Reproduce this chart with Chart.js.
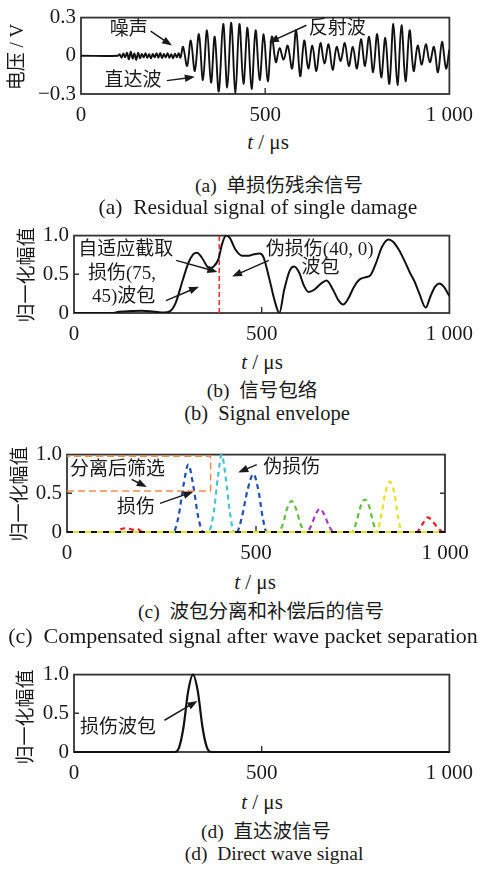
<!DOCTYPE html>
<html>
<head>
<meta charset="utf-8">
<script src="https://cdn.jsdelivr.net/npm/chart.js@4.4.1/dist/chart.umd.min.js"></script>
<style>
body { margin: 0; width: 482px; height: 869px; background: #fff; position: relative; overflow: hidden;
       font-family: "Liberation Serif", "Noto Sans CJK SC", serif; color: #1a1a1a; }
canvas { position: absolute; left: 0; }
.cap { position: absolute; white-space: nowrap; transform: translate(-50%, -50%); font-size: 19.5px; line-height: 1; }
.en { font-family: "Liberation Serif", serif; }
.xt { position: absolute; white-space: nowrap; transform: translate(-50%, -50%); font-size: 21px; line-height: 1;
      font-family: "Liberation Serif", serif; }
.yt { position: absolute; white-space: nowrap; transform: translate(-50%, -50%) rotate(-90deg); font-size: 19px; line-height: 1; }
</style>
</head>
<body>
<canvas id="chartA" width="482" height="128" style="top:0px"></canvas>
<canvas id="chartB" width="482" height="129" style="top:218px"></canvas>
<canvas id="chartC" width="482" height="129" style="top:437px"></canvas>
<canvas id="chartD" width="482" height="129" style="top:657px"></canvas>

<div class="yt" style="left:16px;top:57px">电压 / V</div>
<div class="yt" style="left:26px;top:275px">归一化幅值</div>
<div class="yt" style="left:19px;top:494px">归一化幅值</div>
<div class="yt" style="left:25px;top:717px">归一化幅值</div>

<div class="xt" style="left:268px;top:142px"><i>t</i> / μs</div>
<div class="xt" style="left:262px;top:362px"><i>t</i> / μs</div>
<div class="xt" style="left:255px;top:582px"><i>t</i> / μs</div>
<div class="xt" style="left:262px;top:802px"><i>t</i> / μs</div>

<div class="cap" style="left:279px;top:186px">(a)&nbsp; 单损伤残余信号</div>
<div class="cap en" style="left:258px;top:208px;font-size:21.5px">(a)&nbsp; Residual signal of single damage</div>
<div class="cap" style="left:262px;top:391px">(b)&nbsp; 信号包络</div>
<div class="cap en" style="left:267px;top:413px;font-size:20.5px">(b)&nbsp; Signal envelope</div>
<div class="cap" style="left:261px;top:612px">(c)&nbsp; 波包分离和补偿后的信号</div>
<div class="cap en" style="left:243px;top:636px;font-size:22px">(c)&nbsp; Compensated signal after wave packet separation</div>
<div class="cap" style="left:266px;top:832px">(d)&nbsp; 直达波信号</div>
<div class="cap en" style="left:274px;top:854px;font-size:19.5px">(d)&nbsp; Direct wave signal</div>

<script>
// ---- data ----
const xTicks = [0, 500, 1000];
const xTickLabels = ['0', '500', '1 000'];
const aYTicks = [-0.3, 0, 0.3];
const aYTickLabels = ['\u22120.3', '0', '0.3'];
const nYTicks = [0, 0.5, 1];
const nYTickLabels = ['0', '0.5', '1.0'];

// (a) residual signal, µs / V
const aTime = [0, 100, 105, 110, 115, 120, 125, 130, 135, 140, 145, 150, 155, 160, 165, 170, 175, 180, 185,
  190, 195, 200, 205, 210, 215, 220, 225, 230, 235, 240, 245, 250, 255, 260, 265, 270,
  277, 288, 298, 309, 320, 331, 342, 353, 363, 374, 386, 397, 408, 419, 430, 441, 452, 463, 474, 485,
  496, 507, 518, 529, 539, 550, 561, 573, 584, 595, 606, 617, 628, 639, 650, 661, 672, 683, 694, 705,
  716, 727, 738, 749, 760, 771, 782, 793, 804, 815, 826, 837, 848, 859, 870, 881, 892, 903, 914, 925,
  936, 947, 958, 969, 980, 991, 1000];
const aVolt = [0, 0, 0.012, -0.015, 0.018, -0.012, 0.024, -0.028, 0.032, -0.022, 0.018, -0.032, 0.024, -0.018, 0.015, -0.012, 0.02, -0.015, 0.012,
  -0.02, 0.015, -0.012, 0.02, -0.015, 0.022, -0.018, 0.015, -0.012, 0.02, -0.015, 0.012, -0.02, 0.016, -0.012, 0.02, -0.015,
  0.07, -0.08, 0.12, -0.12, 0.17, -0.19, 0.2, -0.21, 0.15, -0.28, 0.25, -0.25, 0.26, -0.3, 0.25, -0.22, 0.22, -0.26, 0.2, -0.19,
  0.17, -0.2, 0.15, -0.05, 0.06, -0.03, 0.08, -0.1, 0.2, -0.16, 0.12, -0.1, 0.08, -0.12, 0.1, -0.06, 0.09, -0.11, 0.07, -0.04,
  0.1, -0.08, 0.07, -0.1, 0.13, -0.08, 0.15, -0.13, 0.17, -0.17, 0.14, -0.22, 0.25, -0.23, 0.24, -0.2, 0.2, -0.12, 0.08, -0.07,
  0.09, -0.05, 0.07, -0.13, 0.11, -0.1, 0.05];

// (b) envelope
const bTime = [0, 100, 120, 150, 180, 210, 240, 255, 270, 290, 305, 318, 328, 340, 355, 362, 372, 385, 395, 405, 415,
  430, 448, 465, 480, 495, 505, 520, 535, 547, 560, 575, 587, 600, 612, 625, 640, 658, 673, 690, 705, 717, 730,
  745, 760, 775, 790, 805, 820, 838, 850, 865, 880, 895, 906, 920, 937, 950, 962, 973, 985, 1000];
const bAmp = [0, 0, 0.015, 0.025, 0.03, 0.02, 0.005, 0.02, 0.12, 0.43, 0.65, 0.76, 0.78, 0.72, 0.6, 0.58, 0.6, 0.7, 0.9, 1.0, 0.97,
  0.82, 0.74, 0.74, 0.76, 0.77, 0.72, 0.45, 0.15, 0.0, 0.3, 0.55, 0.6, 0.52, 0.36, 0.27, 0.3, 0.38, 0.42, 0.3, 0.16, 0.11, 0.18,
  0.33, 0.43, 0.46, 0.49, 0.65, 0.85, 0.95, 0.92, 0.82, 0.68, 0.52, 0.42, 0.25, 0.07, 0.22, 0.34, 0.38, 0.34, 0.22];
const cutTime = [387, 387];
const cutAmp = [0, 1];

// (c) separated packets
const baseTime = [0, 1000];
const baseAmp = [0, 0];
const blueTime = [0, 281, 295, 308, 321, 334, 347, 360, 449, 462, 478, 493, 507, 518, 528, 1000];
const blueAmp = [0, 0, 0.2, 0.6, 0.87, 0.6, 0.2, 0, 0, 0.18, 0.55, 0.75, 0.52, 0.18, 0, 0];
const cyanTime = [0, 374, 388, 399, 409, 420, 431, 442, 1000];
const cyanAmp = [0, 0, 0.25, 0.7, 1.0, 0.7, 0.25, 0, 0];
const greenTime = [0, 559, 571, 582, 594, 606, 618, 630, 753, 765, 776, 788, 800, 810, 820, 1000];
const greenAmp = [0, 0, 0.1, 0.3, 0.4, 0.3, 0.1, 0, 0, 0.12, 0.32, 0.42, 0.32, 0.12, 0, 0];
const purpleTime = [0, 634, 646, 657, 669, 681, 693, 705, 1000];
const purpleAmp = [0, 0, 0.08, 0.22, 0.3, 0.22, 0.08, 0, 0];
const yellowTime = [0, 819, 830, 842, 854, 866, 876, 886, 1000];
const yellowAmp = [0, 0, 0.18, 0.5, 0.65, 0.5, 0.18, 0, 0];
const redTime = [0, 130, 145, 160, 175, 185, 200, 925, 940, 955, 968, 982, 995, 1000];
const redAmp = [0, 0, 0.04, 0.05, 0.03, 0.04, 0, 0, 0.1, 0.19, 0.13, 0.05, 0, 0];
const boxTime = [0, 380, 380, 0];
const boxAmp = [0.53, 0.53, 0.98, 0.98];

// (d) direct wave
const dTime = [0, 268, 280, 292, 304, 317, 330, 342, 354, 366, 1000];
const dAmp = [0, 0, 0.06, 0.33, 0.78, 1.0, 0.78, 0.33, 0.06, 0, 0];

const pts = (xs, ys) => xs.map((v, i) => ({ x: v, y: ys[i] }));

Chart.defaults.font.family = '"Liberation Serif", serif';

// frame, inward ticks, labels and arrows
function drawArrow(ctx, x1, y1, x2, y2) {
    const ang = Math.atan2(y2 - y1, x2 - x1);
    const len = 10, half = 3.8;
    ctx.beginPath();
    ctx.moveTo(x1, y1);
    ctx.lineTo(x2 - Math.cos(ang) * len * 0.8, y2 - Math.sin(ang) * len * 0.8);
    ctx.stroke();
    ctx.beginPath();
    ctx.moveTo(x2, y2);
    ctx.lineTo(x2 - Math.cos(ang) * len - Math.sin(ang) * half, y2 - Math.sin(ang) * len + Math.cos(ang) * half);
    ctx.lineTo(x2 - Math.cos(ang) * len + Math.sin(ang) * half, y2 - Math.sin(ang) * len - Math.cos(ang) * half);
    ctx.closePath();
    ctx.fill();
}

const decor = {
    id: 'decor',
    beforeDatasetsDraw(chart, args, opts) {
        const { ctx, chartArea: a, scales: { x, y } } = chart;
        ctx.save();
        ctx.strokeStyle = '#333';
        ctx.lineWidth = 1.8;
        ctx.strokeRect(a.left, a.top, a.width, a.height);
        ctx.lineWidth = 1.4;
        ctx.beginPath();
        (opts.tickX || []).forEach(v => {
            const px = x.getPixelForValue(v);
            ctx.moveTo(px, a.bottom); ctx.lineTo(px, a.bottom - 6);
        });
        (opts.tickY || []).forEach(v => {
            const py = y.getPixelForValue(v);
            ctx.moveTo(a.left, py); ctx.lineTo(a.left + 5, py);
            if (opts.rightTicks) { ctx.moveTo(a.right, py); ctx.lineTo(a.right - 5, py); }
        });
        ctx.stroke();
        ctx.restore();
    },
    afterDatasetsDraw(chart, args, opts) {
        const { ctx, scales: { x, y } } = chart;
        ctx.save();
        ctx.fillStyle = '#1a1a1a';
        ctx.strokeStyle = '#1a1a1a';
        ctx.lineWidth = 1.5;
        ctx.font = '19px "Liberation Serif", "Noto Sans CJK SC"';
        ctx.textAlign = 'left';
        ctx.textBaseline = 'middle';
        (opts.notes || []).forEach(n => {
            ctx.fillText(n.text, x.getPixelForValue(n.x), y.getPixelForValue(n.y));
        });
        (opts.arrows || []).forEach(r => {
            drawArrow(ctx, x.getPixelForValue(r[0]), y.getPixelForValue(r[1]),
                x.getPixelForValue(r[2]), y.getPixelForValue(r[3]));
        });
        ctx.restore();
    }
};

function makeChart(id, L, R, datasets, yMin, yMax, yTicks, yLabels, decorOpts) {
    const tickFont = { family: '"Liberation Serif", serif', size: 21 };
    return new Chart(document.getElementById(id), {
        type: 'line',
        data: { datasets },
        options: {
            responsive: false,
            maintainAspectRatio: false,
            animation: false,
            layout: { padding: { left: L - 50, right: 482 - R, top: 14, bottom: 0 } },
            elements: { point: { radius: 0 }, line: { borderJoinStyle: 'round', borderCapStyle: 'butt' } },
            plugins: { legend: { display: false }, tooltip: { enabled: false }, decor: decorOpts },
            scales: {
                x: {
                    type: 'linear', min: 0, max: 1000,
                    grid: { display: false, drawTicks: false },
                    border: { display: false },
                    afterBuildTicks: s => { s.ticks = xTicks.map(v => ({ value: v })); },
                    afterFit: s => { s.height = 34; },
                    ticks: { font: tickFont, color: '#1a1a1a', padding: 9, maxRotation: 0, autoSkip: false,
                        callback: (v, i) => xTickLabels[i] }
                },
                y: {
                    type: 'linear', min: yMin, max: yMax,
                    grid: { display: false, drawTicks: false },
                    border: { display: false },
                    afterBuildTicks: s => { s.ticks = yTicks.map(v => ({ value: v })); },
                    afterFit: s => { s.width = 50; },
                    ticks: { font: tickFont, color: '#1a1a1a', padding: 5, autoSkip: false,
                        callback: (v, i) => yLabels[i] }
                }
            }
        },
        plugins: [decor]
    });
}

makeChart('chartA', 81, 455, [
    { data: pts(aTime, aVolt), borderColor: '#111', borderWidth: 1.9, tension: 0.35 }
], -0.3, 0.3, aYTicks, aYTickLabels, {
    tickX: [500],
    notes: [
        { text: '噪声', x: 78, y: 0.205 },
        { text: '直达波', x: 64, y: -0.195 },
        { text: '反射波', x: 618, y: 0.21 }
    ],
    arrows: [[189, 0.193, 247, 0.08], [233, -0.195, 309, -0.165], [612, 0.24, 510, 0.105]]
});

makeChart('chartB', 74, 452, [
    { data: pts(bTime, bAmp), borderColor: '#111', borderWidth: 2, cubicInterpolationMode: 'monotone' },
    { data: pts(cutTime, cutAmp), borderColor: '#ff2a2a', borderWidth: 1.6, borderDash: [5, 3] }
], 0, 1, nYTicks, nYTickLabels, {
    tickX: [500], tickY: [0.5],
    notes: [
        { text: '自适应截取', x: 11, y: 0.82 },
        { text: '损伤(75,', x: 37, y: 0.5 },
        { text: '45)波包', x: 48, y: 0.205 },
        { text: '伪损伤(40, 0)', x: 511, y: 0.82 },
        { text: '波包', x: 606, y: 0.575 }
    ],
    arrows: [[272, 0.68, 382, 0.53], [245, 0.16, 333, 0.34], [519, 0.68, 421, 0.47]]
});

const dash = [5, 4];
const packet = (xs, ys, color, extra) => Object.assign({
    data: pts(xs, ys), borderColor: color, borderWidth: 2.2, borderDash: dash,
    cubicInterpolationMode: 'monotone', clip: false
}, extra || {});

makeChart('chartC', 67, 445, [
    packet(baseTime, baseAmp, '#e8e02a', { borderDash: [6, 6], borderDashOffset: 6 }),
    packet(baseTime, baseAmp, '#111111', { borderDash: [6, 6] }),
    packet(boxTime, boxAmp, '#f28c4c', { borderWidth: 1.5, borderDash: [7, 4], cubicInterpolationMode: 'default', tension: 0 }),
    packet(yellowTime, yellowAmp, '#e8e02a'),
    packet(blueTime, blueAmp, '#1f4fb4'),
    packet(cyanTime, cyanAmp, '#45c3d6'),
    packet(greenTime, greenAmp, '#62bf3a'),
    packet(purpleTime, purpleAmp, '#a23fbf'),
    packet(redTime, redAmp, '#e02424')
], 0, 1, nYTicks, nYTickLabels, {
    tickX: [500], tickY: [0.5], rightTicks: true,
    notes: [
        { text: '分离后筛选', x: 8, y: 0.8 },
        { text: '损伤', x: 132, y: 0.31 },
        { text: '伪损伤', x: 519, y: 0.83 }
    ],
    arrows: [[171, 0.68, 211, 0.58], [246, 0.37, 334, 0.52], [502, 0.87, 453, 0.77]]
});

makeChart('chartD', 74, 452, [
    { data: pts(dTime, dAmp), borderColor: '#111', borderWidth: 2.2, cubicInterpolationMode: 'monotone', clip: false }
], 0, 1, nYTicks, nYTickLabels, {
    tickX: [500], tickY: [0.5],
    notes: [{ text: '损伤波包', x: 16, y: 0.31 }],
    arrows: [[241, 0.41, 329, 0.66]]
});
</script>
</body>
</html>
